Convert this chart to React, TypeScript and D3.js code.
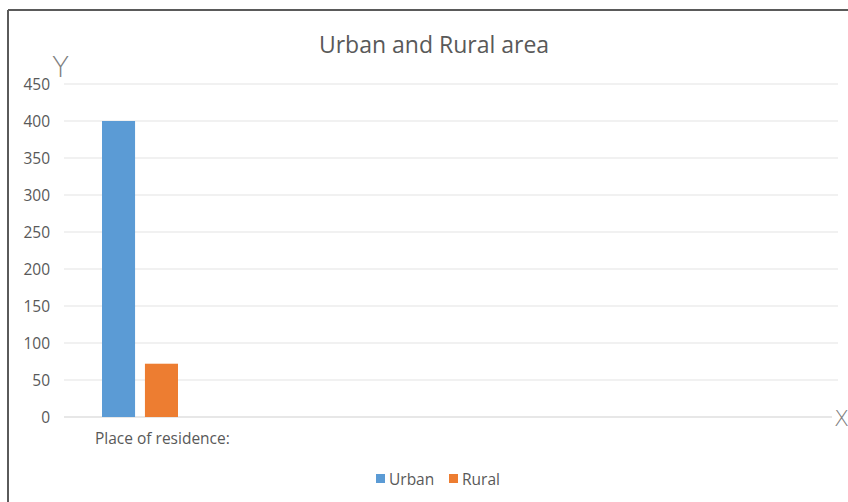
import React from "react";
import * as d3 from "d3";

// Chart data
const categories = ["Place of residence:"];
const seriesNames = ["Urban", "Rural"];
const seriesValues = [400, 72];
const yTicks = [0, 50, 100, 150, 200, 250, 300, 350, 400, 450];
const slotCount = 5;

const colors = ["#5B9BD5", "#ED7D31"];
const FONT = "'Open Sans', Lato, sans-serif";

export default function App() {
  const W = 848;
  const H = 502;
  const plot = { left: 64, right: 838, top: 84, bottom: 417 };

  const y = d3.scaleLinear().domain([0, 450]).range([plot.bottom, plot.top]);
  const slots = d3.scaleBand<number>().domain(d3.range(slotCount)).range([plot.left, plot.right]);
  const inner = d3
    .scaleBand<string>()
    .domain(seriesNames)
    .range([38, 114])
    .paddingInner(0.23);

  return (
    <svg
      width={W}
      height={H}
      style={{ position: "absolute", left: 0, top: 0, background: "#fff" }}
      fontFamily={FONT}
    >
      {/* frame edges */}
      <line x1={8} x2={W} y1={10} y2={10} stroke="#5a5a5a" strokeWidth={2} />
      <line x1={8} x2={8} y1={10} y2={H} stroke="#5a5a5a" strokeWidth={2} />

      <text x={434} y={53} textAnchor="middle" fontSize={23} fill="#595959">
        Urban and Rural area
      </text>

      {/* gridlines and y tick labels */}
      {yTicks.map((t) => (
        <g key={t}>
          <line
            x1={plot.left}
            x2={t === 0 ? 832 : plot.right}
            y1={y(t)}
            y2={y(t)}
            stroke={t === 0 ? "#cfcfcf" : "#e3e3e3"}
            strokeWidth={1}
          />
          <text x={50} y={y(t) + 5.5} textAnchor="end" fontSize={15.5} fill="#595959">
            {t}
          </text>
        </g>
      ))}

      {/* axis letters */}
      <text x={52} y={77} fontSize={28} fill="#7f7f7f" fontFamily="'DejaVu Sans', sans-serif" style={{ fontWeight: 200 }}>
        Y
      </text>
      <text x={834} y={426} fontSize={22} fill="#7f7f7f" fontFamily="'DejaVu Sans', sans-serif" style={{ fontWeight: 200 }}>
        X
      </text>

      {/* bars */}
      {seriesNames.map((s, i) => (
        <rect
          key={s}
          x={(slots(0) as number) + (inner(s) as number)}
          y={y(seriesValues[i])}
          width={inner.bandwidth()}
          height={plot.bottom - y(seriesValues[i])}
          fill={colors[i]}
        />
      ))}

      {/* category label */}
      {categories.map((c, i) => (
        <text key={c} x={(slots(i) as number) + slots.bandwidth() / 2 + 21} y={444} textAnchor="middle" fontSize={15.5} fill="#595959">
          {c}
        </text>
      ))}

      {/* legend */}
      {seriesNames.map((s, i) => {
        const lx = i === 0 ? 376 : 449;
        return (
          <g key={s}>
            <rect x={lx} y={474} width={9} height={9} fill={colors[i]} />
            <text x={lx + 13} y={484.5} fontSize={15.5} fill="#595959">
              {s}
            </text>
          </g>
        );
      })}
    </svg>
  );
}
